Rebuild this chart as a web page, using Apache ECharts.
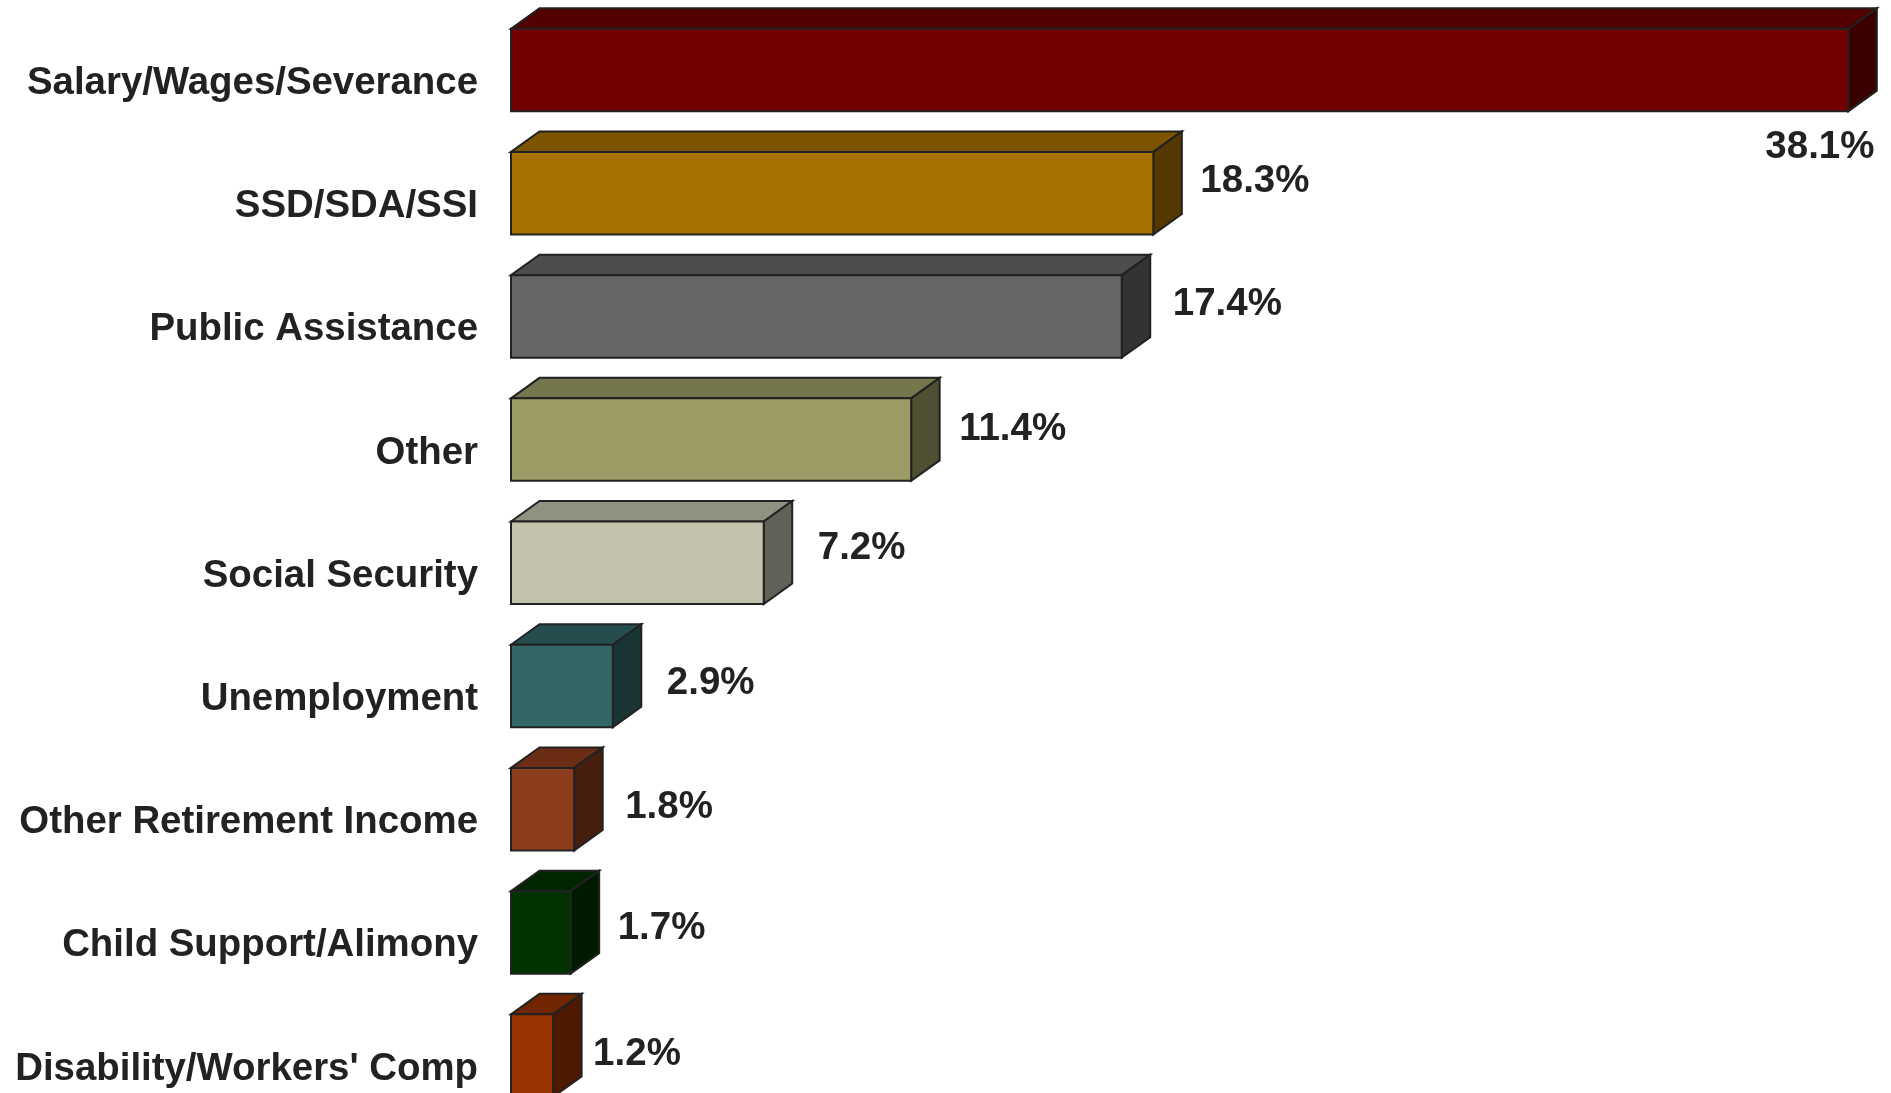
<!DOCTYPE html>
<html>
<head>
<meta charset="utf-8">
<style>html,body{margin:0;padding:0;background:#fff;overflow:hidden}#c{width:1891px;height:1093px}</style>
<script src="https://cdn.jsdelivr.net/npm/echarts@6/dist/echarts.min.js"></script>
</head>
<body>
<div id="c"></div>
<script>
const categories = ['Salary/Wages/Severance','SSD/SDA/SSI','Public Assistance','Other','Social Security','Unemployment','Other Retirement Income','Child Support/Alimony',"Disability/Workers' Comp"];
const shares = [38.1,18.3,17.4,11.4,7.2,2.9,1.8,1.7,1.2];
const frontColors = ['#750000','#a87000','#666666','#9c9c66','#c2c2ad','#336666','#8c3d1c','#003300','#993300'];
const topColors = ['#520000','#7d5400','#4d4d4d','#76764d','#919182','#264d4d','#6b2e14','#002600','#722600'];
const sideColors = ['#3a0000','#543800','#333333','#4f4f33','#616157','#1a3333','#461f0e','#001a00','#4d1a00'];
const labelDx = [-83,47,51,48,54,54,51,47,40];
const labelDy = [77,-12,-12,-10,-14,-3,-2,-4,-1];

const DEPTH_X = 28.5, DEPTH_Y = 20.5, BAR_RATIO = 0.67, INK = '#222222', FONT = '"Liberation Sans", Arial, sans-serif';
const edge = { stroke: INK, lineWidth: 2, lineJoin: 'miter' };

function renderBar(params, api) {
  const i = api.value(0), v = api.value(1);
  const o = api.coord([0, i]), e = api.coord([v, i]);
  const h = api.size([0, 1])[1] * BAR_RATIO;
  const x0 = o[0], x1 = e[0], yT = o[1] - h / 2, yB = o[1] + h / 2;
  const poly = (pts, fill) => ({ type: 'polygon', shape: { points: pts }, style: Object.assign({ fill }, edge) });
  return {
    type: 'group',
    children: [
      poly([[x0,yT],[x0+DEPTH_X,yT-DEPTH_Y],[x1+DEPTH_X,yT-DEPTH_Y],[x1,yT]], topColors[i]),
      poly([[x1,yT],[x1+DEPTH_X,yT-DEPTH_Y],[x1+DEPTH_X,yB-DEPTH_Y],[x1,yB]], sideColors[i]),
      poly([[x0,yT],[x1,yT],[x1,yB],[x0,yB]], frontColors[i]),
      { type: 'text', style: { x: x1 + labelDx[i], y: o[1] + labelDy[i], text: v.toFixed(1) + '%',
        fill: INK, font: 'bold 38.5px ' + FONT, align: 'left', verticalAlign: 'middle' } }
    ]
  };
}

const chart = echarts.init(document.getElementById('c'), null, { renderer: 'canvas' });
chart.setOption({
  animation: false,
  backgroundColor: '#ffffff',
  grid: { left: 511, top: 8.4, width: 1404, height: 1108.8, containLabel: false, outerBoundsMode: 'none' },
  xAxis: { type: 'value', min: 0, max: 40, show: false },
  yAxis: {
    type: 'category', inverse: true, data: categories,
    axisLine: { show: false }, axisTick: { show: false }, splitLine: { show: false },
    axisLabel: { show: true, interval: 0, margin: 33, align: 'right', verticalAlign: 'top', lineHeight: 27,
      color: INK, fontFamily: FONT, fontWeight: 'bold', fontSize: 38.4 }
  },
  series: [{
    type: 'custom', clip: false, renderItem: renderBar,
    encode: { x: 1, y: 0 },
    data: shares.map((v, i) => [i, v])
  }]
});
</script>
</body>
</html>
